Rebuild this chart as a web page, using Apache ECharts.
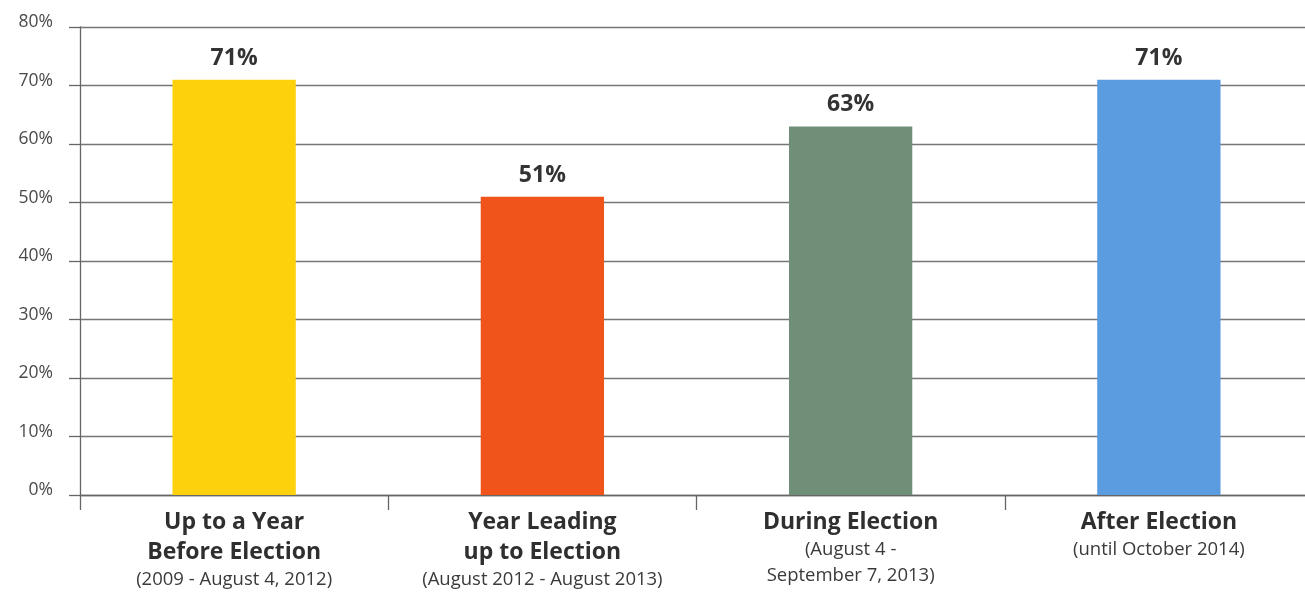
<!DOCTYPE html>
<html>
<head>
<meta charset="utf-8">
<script src="https://cdn.jsdelivr.net/npm/echarts@6/dist/echarts.min.js"></script>
<style>
  html, body { margin: 0; padding: 0; background: #ffffff; }
  #chart { width: 1305px; height: 592px; }
</style>
</head>
<body>
<div id="chart"></div>
<script>
// Period titles, date ranges, share values and bar colours
const periodTitles = ['Up to a Year\nBefore Election', 'Year Leading\nup to Election', 'During Election', 'After Election'];
const periodRanges = ['(2009 - August 4, 2012)', '(August 2012 - August 2013)', '(August 4 -\nSeptember 7, 2013)', '(until October 2014)'];
const shareValues = [71, 51, 63, 71];
const barColors = ['#fdd20c', '#f0541a', '#6f8f78', '#5b9bdf'];
const yTicks = [0, 10, 20, 30, 40, 50, 60, 70, 80];

const fontFamily = '"Open Sans", "Noto Sans", sans-serif';

function categoryLabel(i) {
  const title = periodTitles[i].split('\n').map(t => '{b|' + t + '}').join('\n');
  const range = periodRanges[i].split('\n').map(t => '{s|' + t + '}').join('\n');
  return title + '\n' + range;
}

const chart = echarts.init(document.getElementById('chart'), null, { renderer: 'canvas' });

chart.setOption({
  backgroundColor: '#ffffff',
  animation: false,
  grid: { left: 80, width: 1233, top: 27, bottom: 97, containLabel: false, outerBoundsMode: 'none' },
  xAxis: {
    type: 'category',
    data: periodTitles.map((t, i) => i),
    axisLine: { show: true, lineStyle: { color: '#666666', width: 1.3 } },
    axisTick: { show: true, length: 15, alignWithLabel: false, lineStyle: { color: '#666666', width: 1.3 } },
    axisLabel: {
      margin: 12,
      interval: 0,
      formatter: (v, idx) => categoryLabel(idx),
      rich: {
        b: { fontFamily, fontWeight: 'bold', fontSize: 23, lineHeight: 30, color: '#2f2f2f', align: 'center' },
        s: { fontFamily, fontSize: 18.5, lineHeight: 26, color: '#3a3a3a', align: 'center' }
      }
    }
  },
  yAxis: {
    type: 'value',
    min: 0,
    max: 80,
    interval: 10,
    axisLine: { show: true, lineStyle: { color: '#666666', width: 1.3 } },
    axisTick: { show: true, length: 11, lineStyle: { color: '#666666', width: 1.3 } },
    splitLine: { show: true, lineStyle: { color: '#767676', width: 1.3 } },
    axisLabel: {
      margin: 27,
      fontFamily,
      fontSize: 17.5,
      color: '#4a4a4a',
      verticalAlign: 'bottom',
      lineHeight: 9,
      formatter: v => (yTicks.includes(v) ? v + '%' : '')
    }
  },
  series: [{
    type: 'bar',
    barWidth: '40%',
    data: shareValues.map((v, i) => ({ value: v, itemStyle: { color: barColors[i] } })),
    label: {
      show: true,
      position: 'top',
      distance: 10,
      fontFamily,
      fontWeight: 'bold',
      fontSize: 23,
      color: '#333333',
      formatter: p => p.value + '%'
    }
  }]
});
</script>
</body>
</html>
